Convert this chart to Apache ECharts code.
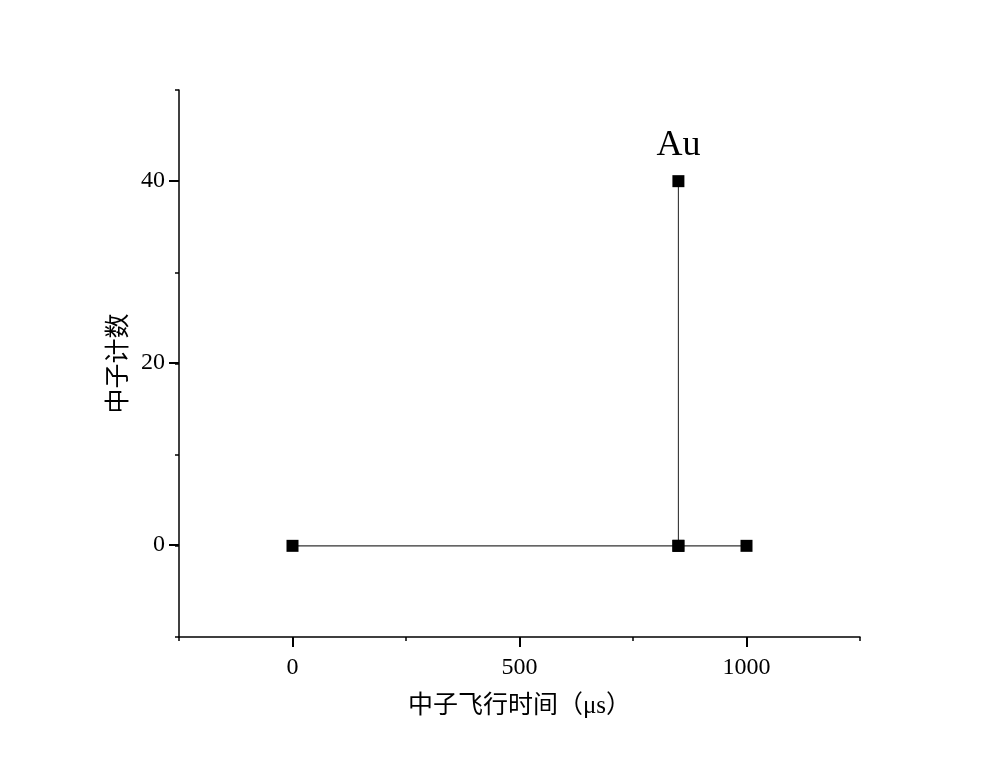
<!DOCTYPE html>
<html>
<head>
<meta charset="utf-8">
<script src="https://cdn.jsdelivr.net/npm/echarts@6/dist/echarts.min.js"></script>
<style>html,body{margin:0;padding:0;background:#fff}#c{width:1000px;height:765px}</style>
</head>
<body>
<div id="c"></div>
<script>
// Data
var timeValues = [0, 850, 850, 850, 1000];   // 中子飞行时间 (μs)
var countValues = [0, 0, 40, 0, 0];         // 中子计数
var peakLabels = ['', '', 'Au', '', ''];
var xTitle = '中子飞行时间（μs）';
var yTitle = '中子计数';

var serif = 'Liberation Serif';
var mixed = "'Liberation Serif','Noto Sans CJK SC'";

var chart = echarts.init(document.getElementById('c'));
var seriesData = timeValues.map(function (t, i) {
  var item = { value: [t, countValues[i]] };
  if (peakLabels[i]) {
    item.label = { show: true, position: 'top', formatter: peakLabels[i], distance: 12,
      fontFamily: serif, fontSize: 36, color: '#000' };
  }
  return item;
});
var plain = function (v) { return String(v); };
var hiddenLine = { show: true, onZero: false, lineStyle: { color: 'rgba(0,0,0,0)', width: 0 } };

chart.setOption({
  animation: false,
  backgroundColor: '#fff',
  grid: [
    { left: 179, right: 140, top: 90, bottom: 128 },
    { left: 292.5, right: 253.5, top: 90, bottom: 128 },
    { left: 179, right: 140, top: 180.5, bottom: 220 }
  ],
  xAxis: [
    { gridIndex: 0, type: 'value', min: -250, max: 1250, interval: 250,
      axisLine: { show: true, onZero: false, lineStyle: { color: '#000', width: 1.5 } },
      axisTick: { show: true, length: 4, lineStyle: { color: '#000', width: 1.5 } },
      axisLabel: { show: false }, splitLine: { show: false },
      name: xTitle, nameLocation: 'middle', nameGap: 57,
      nameTextStyle: { fontFamily: mixed, fontSize: 25, color: '#000' } },
    { gridIndex: 1, type: 'value', min: 0, max: 1000, interval: 500,
      axisLine: hiddenLine,
      axisTick: { show: true, length: 10, lineStyle: { color: '#000', width: 2 } },
      axisLabel: { show: true, margin: 19, fontFamily: serif, fontSize: 24, color: '#000', formatter: plain },
      splitLine: { show: false } },
    { gridIndex: 2, type: 'value', min: 0, max: 1000, show: false }
  ],
  yAxis: [
    { gridIndex: 0, type: 'value', min: -10, max: 50, interval: 10,
      axisLine: { show: true, onZero: false, lineStyle: { color: '#000', width: 1.5 } },
      axisTick: { show: true, length: 4, lineStyle: { color: '#000', width: 1.5 } },
      axisLabel: { show: false }, splitLine: { show: false },
      name: yTitle, nameLocation: 'middle', nameGap: 47, nameRotate: 90,
      nameTextStyle: { fontFamily: mixed, fontSize: 25, color: '#000' } },
    { gridIndex: 1, type: 'value', min: 0, max: 40, show: false },
    { gridIndex: 2, type: 'value', min: 0, max: 40, interval: 20,
      axisLine: hiddenLine,
      axisTick: { show: true, length: 10, lineStyle: { color: '#000', width: 2 } },
      axisLabel: { show: true, margin: 14, fontFamily: serif, fontSize: 24, color: '#000', formatter: plain },
      splitLine: { show: false } }
  ],
  series: [{
    type: 'line', xAxisIndex: 0, yAxisIndex: 0,
    data: seriesData,
    symbol: 'rect', symbolSize: 12,
    itemStyle: { color: '#000' },
    lineStyle: { color: '#333', width: 1.1 },
    label: { show: false },
    z: 5
  }]
});
</script>
</body>
</html>
